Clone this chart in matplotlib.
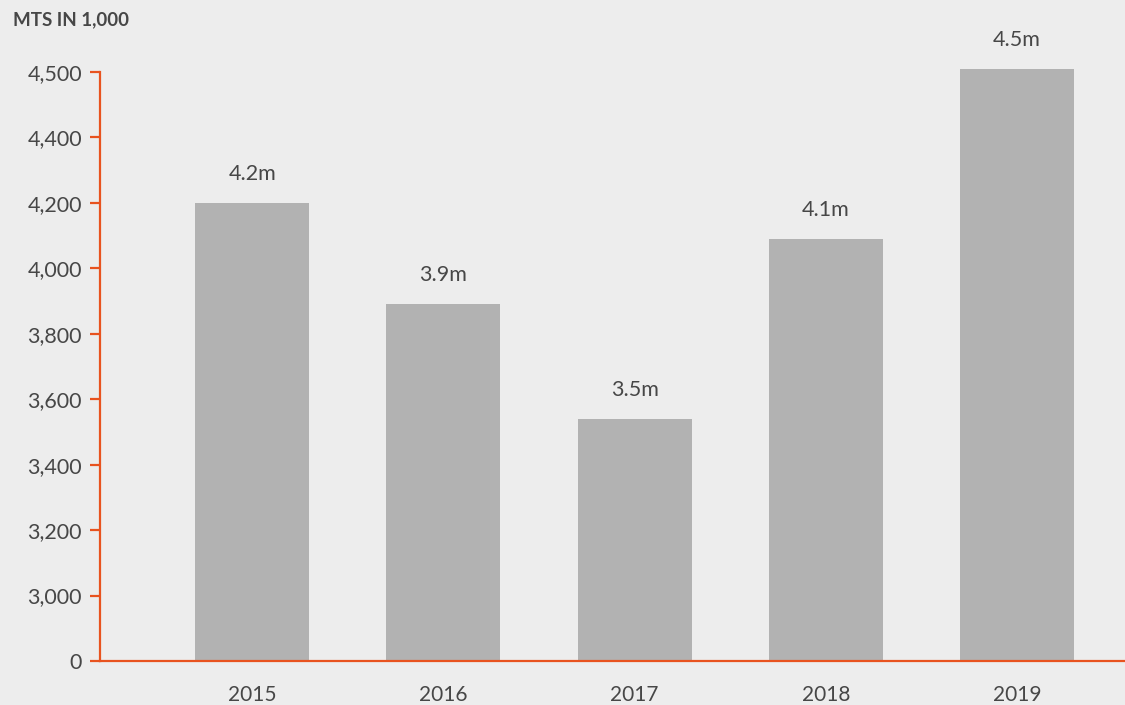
import numpy as np
import matplotlib
matplotlib.use("Agg")
import matplotlib.pyplot as plt

years = ["2015", "2016", "2017", "2018", "2019"]
values = [4200, 3890, 3540, 4090, 4505]
value_labels = ["4.2m", "3.9m", "3.5m", "4.1m", "4.5m"]
tick_values = [0, 3000, 3200, 3400, 3600, 3800, 4000, 4200, 4400, 4500]
tick_labels = ["0", "3,000", "3,200", "3,400", "3,600", "3,800", "4,000", "4,200", "4,400", "4,500"]

TV = np.array(tick_values, dtype=float)
IDX = np.arange(len(TV), dtype=float)

def fwd(v):
    v = np.asarray(v, dtype=float)
    out = np.interp(v, TV, IDX)
    hi = v > TV[-1]
    out = np.where(hi, IDX[-1] + (v - TV[-1]) / (TV[-1] - TV[-2]), out)
    lo = v < TV[0]
    out = np.where(lo, (v - TV[0]) / (TV[1] - TV[0]), out)
    return out

def inv(i):
    i = np.asarray(i, dtype=float)
    out = np.interp(i, IDX, TV)
    hi = i > IDX[-1]
    out = np.where(hi, TV[-1] + (i - IDX[-1]) * (TV[-1] - TV[-2]), out)
    lo = i < IDX[0]
    out = np.where(lo, TV[0] + i * (TV[1] - TV[0]), out)
    return out

BG = "#ededed"
BAR = "#b2b2b2"
ORANGE = "#e8531f"
TXT = "#474747"

plt.rcParams["font.family"] = ["Lato", "DejaVu Sans"]

fig = plt.figure(figsize=(11.25, 7.05), dpi=100, facecolor=BG)
ax = fig.add_axes([100/1125, 44/705, 1 - 100/1125, (661 - 72)/705])
ax.set_facecolor(BG)
ax.set_yscale("function", functions=(fwd, inv))

x = np.arange(len(years))
ax.bar(x, values, width=0.597, color=BAR, clip_on=False, zorder=2)
for xi, v, lab in zip(x, values, value_labels):
    ax.annotate(lab, (xi, v), xytext=(0, 21), textcoords="offset points",
                ha="center", va="center", fontsize=15.5, color=TXT,
                annotation_clip=False)

ax.set_xlim(-0.796, 4.565)
ax.set_ylim(0, 4500)
ax.set_yticks(tick_values)
ax.set_yticklabels(tick_labels)
ax.yaxis.set_minor_locator(matplotlib.ticker.NullLocator())
ax.set_xticks(x)
ax.set_xticklabels(years)

for s in ["top", "right"]:
    ax.spines[s].set_visible(False)
for s in ["left", "bottom"]:
    ax.spines[s].set_color(ORANGE)
    ax.spines[s].set_linewidth(1.6)
    ax.spines[s].set_zorder(3)

ax.tick_params(axis="y", length=7, width=1.6, color=ORANGE, pad=6,
               labelsize=15.5, labelcolor=TXT)
ax.tick_params(axis="x", length=0, pad=17, labelsize=15, labelcolor=TXT)

fig.text(13/1125, 1 - 20/705, "MTS IN 1,000", fontsize=13.5, fontweight="bold",
         color=TXT, ha="left", va="center")

fig.savefig("out.png", dpi=100, facecolor=BG)
